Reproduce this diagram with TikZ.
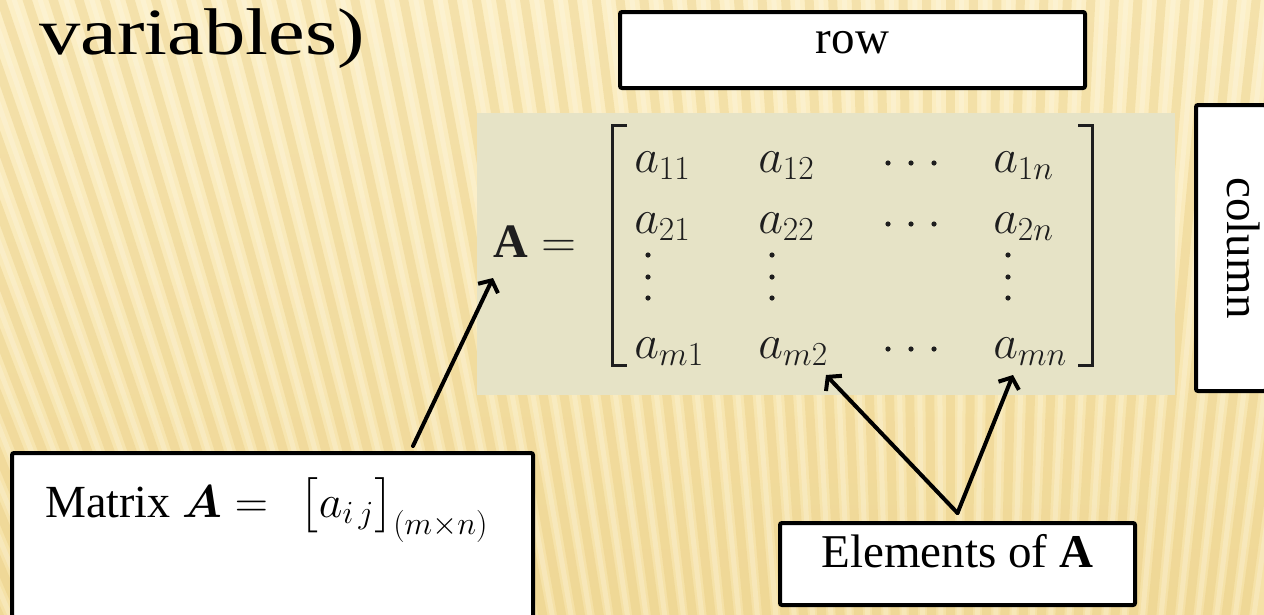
\documentclass[tikz,border=0pt]{standalone}
\usepackage{fix-cm}
\usepackage{amsmath,amssymb}
\usepackage{fontspec}
\setmainfont{Liberation Serif}
\usepackage{tikz}
\usetikzlibrary{arrows.meta,calc}
\definecolor{paperhi}{HTML}{FCEFC6}
\definecolor{paperlo}{HTML}{F5E1A6}
\definecolor{paperrib}{HTML}{E6C879}
\definecolor{matbg}{HTML}{E6E3C6}
\definecolor{matink}{HTML}{1E1E1E}

\begin{document}
\begin{tikzpicture}[x=1pt, y=-1pt, line width=0.6pt,
  box/.style={draw, line width=4pt, fill=white, rounded corners=2pt, inner sep=0pt},
  boxtext/.style={font=\fontsize{47}{56}\selectfont, text height=0.7em, text depth=0pt},
  elem/.style={anchor=base west, inner sep=0pt, text=matink, font=\fontsize{48}{58}\selectfont},
  pointer/.style={line width=4pt, line cap=round, -{Straight Barb[length=9pt,width=22pt]}},
  ridge/.style={paperrib, line width=9pt, opacity=0.35},
  sheen/.style={white, line width=5pt, opacity=0.2}]

\useasboundingbox (0,0) rectangle (1264,614);

% ribbed paper background
\shade[top color=paperhi, bottom color=paperlo] (0,0) rectangle (1264,614);
\begin{scope}
  \clip (0,0) rectangle (1264,614);
  \coordinate (focus) at (950,2800);
  \foreach \i in {-52,...,16}{
    \draw[ridge] (focus) -- ++({270+0.48*\i}:3000);
    \draw[sheen] (focus) -- ++({270+0.48*\i+0.24}:3000);
  }
\end{scope}

% slide title, cut at the top
\node[anchor=base west, inner sep=0pt, font=\fontsize{66}{76}\selectfont] (title) at (39,54)
  {\scalebox{1.25}[1]{variables)}};

% the matrix picture
\fill[matbg] (477,113) rectangle (1175,395);
\draw[matink, line width=3pt] (627,125) -- (612,125) -- (612,365) -- (627,365);
\draw[matink, line width=3pt] (1078,125) -- (1092,125) -- (1092,365) -- (1078,365);
\node[elem] (lhs) at (493,257) {$\mathbf{A} =$};
\foreach \lab/\x/\y/\nm in {a_{11}/634/172/a11, a_{12}/758/172/a12, a_{1n}/993/172/a1n,
                            a_{21}/634/233/a21, a_{22}/758/233/a22, a_{2n}/993/233/a2n,
                            a_{m1}/634/358/am1, a_{m2}/758/358/am2, a_{mn}/993/358/amn}
  \node[elem] (\nm) at (\x,\y) {$\lab$};
% dots between the entries
\foreach \x in {888,911,934} \foreach \y in {163,224,349} \fill[matink] (\x,\y) circle (2.6);
\foreach \x in {648,772,1008} \foreach \y in {255,277,298} \fill[matink] (\x,\y) circle (2.6);

% labels in boxes
\node[box, boxtext, minimum width=465pt, minimum height=76pt] (rowbox) at (852.5,50) {row};
\node[box, boxtext, rotate=-90, minimum width=286pt, minimum height=70pt] (colbox) at (1231,248) {column};
\node[box, minimum width=521pt, minimum height=220pt] (defbox) at (272.5,563) {};
\node[boxtext, font=\fontsize{46}{55}\selectfont, anchor=base west, inner sep=0pt] (deftext) at (45,517)
  {Matrix $\boldsymbol{A} =\ \,\bigl[a_{i\,j}\bigr]_{(m\times n)}$};
\node[box, boxtext, minimum width=355pt, minimum height=82pt] (elbox) at (957.5,564) {Elements of \textbf{A}};

% pointers
\coordinate (tailA) at (413,446);
\coordinate (fork) at ([yshift=8pt]elbox.north);
\draw[pointer] (tailA) -- ([xshift=0pt,yshift=-21pt]lhs.base west);
\draw[pointer] (fork) -- ([xshift=-2pt,yshift=-17pt]am2.base east);
\draw[pointer] (fork) -- ([xshift=20pt,yshift=-17pt]amn.base west);

\end{tikzpicture}
\end{document}
